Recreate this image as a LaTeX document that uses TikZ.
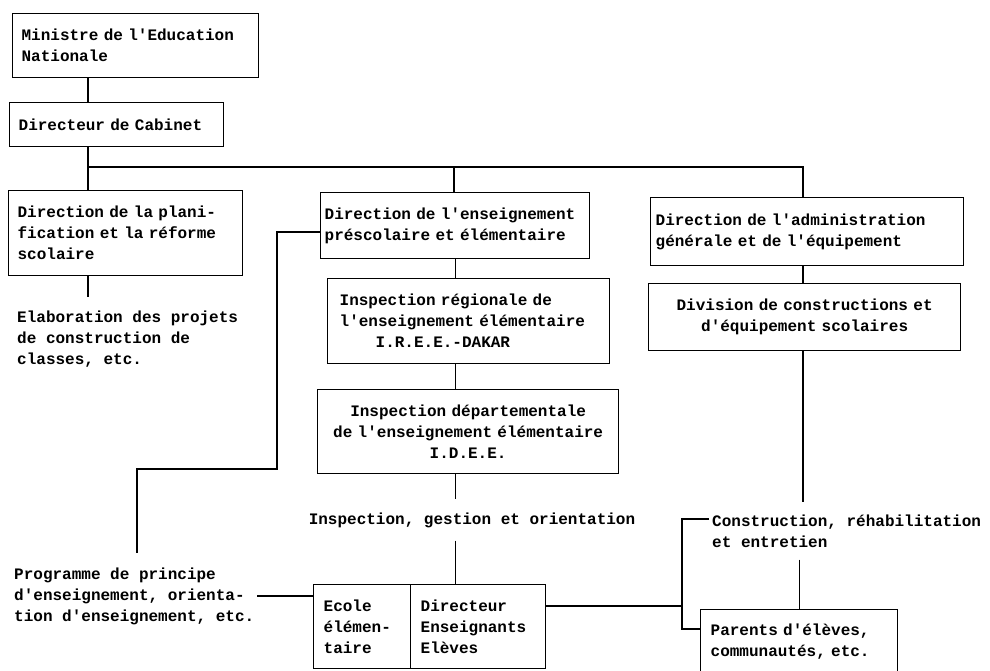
\documentclass[tikz,border=0pt]{standalone}
\usepackage{fontspec}
\setmonofont{Liberation Mono}
\begin{document}
\begin{tikzpicture}[x=1pt,y=-1pt,
  every node/.style={font=\ttfamily\bfseries\fontsize{16}{21}\selectfont},
  box/.style={draw, line width=1.3pt, anchor=north west, inner ysep=0pt, inner xsep=10pt, align=left},
  lbl/.style={align=left, inner xsep=3pt, inner ysep=14pt},
  conn/.style={line width=1.3pt}]
\useasboundingbox (0,0) rectangle (990,670);

% boxes
\node[box, inner xsep=9pt, text width=228pt, minimum height=64pt] (mini) at (12,13) {Ministre de l'Education\\Nationale};
\node[box, inner xsep=9pt, text width=196pt, minimum height=44pt] (dirc) at (9,102) {Directeur de Cabinet};
\node[box, inner xsep=9pt, text width=216pt, minimum height=85pt] (plan) at (8,190) {Direction de la plani-\\fication et la réforme\\scolaire};
\node[box, inner xsep=4pt, text width=261pt, minimum height=66pt] (ens) at (320,192) {Direction de l'enseignement\\préscolaire et élémentaire};
\node[box, inner xsep=12pt, text width=258pt, minimum height=85pt] (ireg) at (327,278) {Inspection régionale de\\l'enseignement élémentaire\\\hspace*{36pt}I.R.E.E.-DAKAR};
\node[box, inner xsep=6pt, text width=289pt, minimum height=84pt, align=center] (idep) at (317,389) {Inspection départementale\\de l'enseignement élémentaire\\I.D.E.E.};
\node[box, inner xsep=5pt, text width=303pt, minimum height=68pt] (adm) at (650,197) {Direction de l'administration\\générale et de l'équipement};
\node[box, inner xsep=6pt, text width=300pt, minimum height=67pt, align=center] (div) at (648,283) {Division de constructions et\\d'équipement scolaires};
\node[box, text width=77pt, minimum height=84pt] (ecoleL) at (313,584) {Ecole\\élémen-\\taire};
\node[box, text width=115pt, minimum height=84pt] (ecoleR) at (410,584) {Directeur\\Enseignants\\Elèves};
\node[box, text width=177pt, minimum height=63pt] (parents) at (700,609) {Parents d'élèves,\\communautés, etc.};

% free labels
\node[lbl, anchor=west] (elab) at (14,339) {Elaboration des projets\\de construction de\\classes, etc.};
\node[lbl, anchor=west] (prog) at (11,596) {Programme de principe\\d'enseignement, orienta-\\tion d'enseignement, etc.};
\node[lbl, anchor=west, inner ysep=12pt] (cons) at (709,531) {Construction, réhabilitation\\et entretien};
\node[lbl, inner ysep=13pt] (insp) at (472,520) {Inspection, gestion et orientation};

% helper coordinates
\coordinate (hub) at (88,167);
\coordinate (hubM) at (454,167);
\coordinate (hubR) at (803,167);
\coordinate (ka) at (277,232);
\coordinate (kb) at (277,469);
\coordinate (kc) at (137,469);
\coordinate (bt) at (682,519);
\coordinate (be) at (682,606);
\coordinate (bb) at (682,629);

% connectors
\draw[conn] (mini.south -| hub) -- (dirc.north -| hub);
\draw[conn] (dirc.south -| hub) -- (plan.north -| hub);
\draw[conn] (hub) -- (hubR) -- (adm.north -| hubR);
\draw[conn] (hubM) -- (ens.north -| hubM);
\draw[conn] (plan.south -| hub) -- (elab.north -| hub);
\draw[conn] (ens.south) -- (ireg.north -| ens.south);
\draw[conn] (ireg.south -| ens.south) -- (idep.north -| ens.south);
\draw[conn] (idep.south -| ens.south) -- (insp.north -| ens.south);
\draw[conn] (insp.south -| ens.south) -- (ecoleR.north -| ens.south);
\draw[conn] (ens.west |- ka) -- (ka) -- (kb) -- (kc) -- (prog.north -| kc);
\draw[conn] (prog.east) -- (ecoleL.west |- prog.east);
\draw[conn] (adm.south -| hubR) -- (div.north -| hubR);
\draw[conn] (div.south -| hubR) -- (cons.north -| hubR);
\draw[conn] (parents.north |- cons.south) -- (parents.north);
\draw[conn] (cons.west |- bt) -- (bt) -- (bb) -- (parents.west |- bb);
\draw[conn] (ecoleR.east |- be) -- (be);
\end{tikzpicture}
\end{document}
